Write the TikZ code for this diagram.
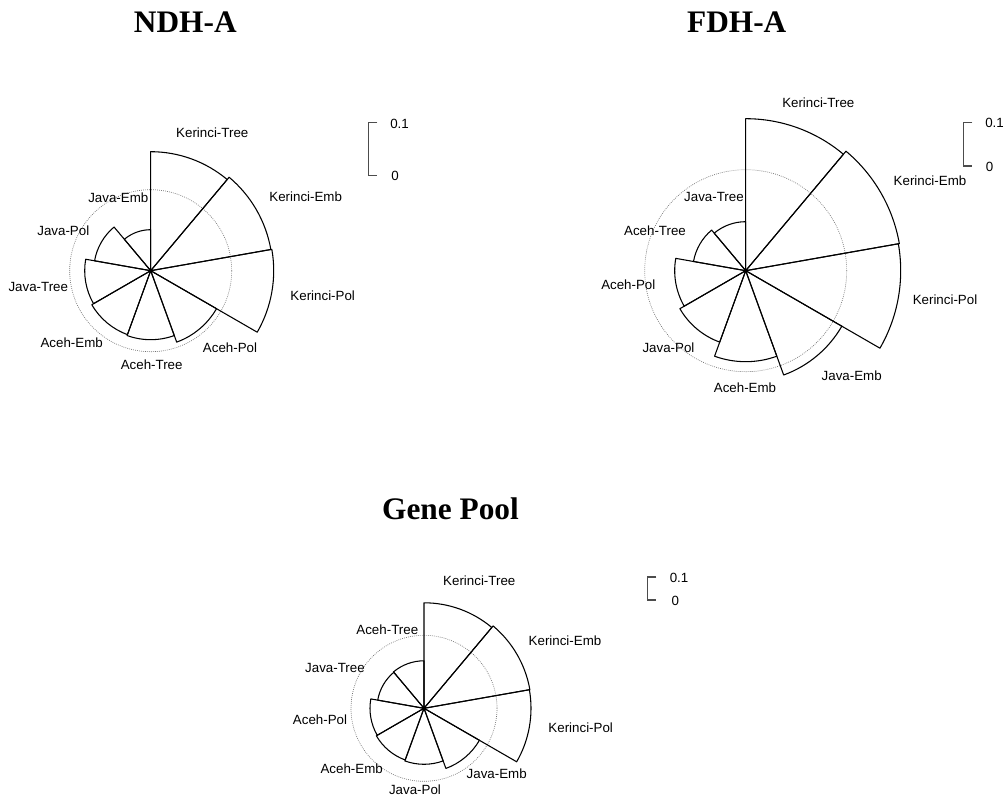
\documentclass[tikz,border=0pt]{standalone}
\usepackage{fontspec}
\setmainfont{Liberation Serif}
\setsansfont{Liberation Sans}
\begin{document}
\begin{tikzpicture}[x=0.75pt,y=0.75pt,
    sector/.style={draw=black,line width=0.8pt,line join=round},
    ring/.style={draw=black!55,line width=0.5pt,dash pattern=on 0.6pt off 0.9pt},
    lab/.style={font=\sffamily\fontsize{10}{12}\selectfont,inner sep=0pt},
    ttl/.style={font=\rmfamily\bfseries\fontsize{23.5}{28}\selectfont,inner sep=0pt},
    keybar/.style={draw=black!70,line width=0.8pt},
    keylab/.style={lab,anchor=west}]
\useasboundingbox (0,0) rectangle (1007,796);

% NDH-A
\coordinate (ndh) at (150.7,525.3);
\node[ttl] (ndh-title) at (185.3,774) {NDH-A};
\draw[ring] (ndh) circle[radius=81];
\foreach \a/\rad in {90/119,50/122,10/123,-30/76,-70/69,-110/68,-150/66,170/57,130/41}
  \draw[sector] (ndh) -- +(\a:\rad) arc[start angle=\a,delta angle=-40,radius=\rad] -- cycle;
\foreach \t/\x/\y [count=\i] in {Kerinci-Tree/212.3/663.7,Kerinci-Emb/305.7/599.3,
    Kerinci-Pol/322.7/500.3,Aceh-Pol/230/448.3,Aceh-Tree/151.7/431,Aceh-Emb/71.7/453.3,
    Java-Tree/38.3/509.3,Java-Pol/63.3/565.3,Java-Emb/118.3/598.7}
  \node[lab] (ndh-\i) at (\x,\y) {\t};
\draw[keybar] (377.3,673.3) -- (368.3,673.3) -- (368.3,620.7) -- (377.3,620.7);
\node[keylab] (ndh-top) at (390,672) {0.1};
\node[keylab] (ndh-low) at (391,620) {0};

% FDH-A
\coordinate (fdh) at (745.7,525.3);
\node[ttl] (fdh-title) at (736.7,774) {FDH-A};
\draw[ring] (fdh) circle[radius=101];
\foreach \a/\rad in {90/152,50/156,10/155,-30/111,-70/91,-110/76,-150/71,170/53,130/49}
  \draw[sector] (fdh) -- +(\a:\rad) arc[start angle=\a,delta angle=-40,radius=\rad] -- cycle;
\foreach \t/\x/\y [count=\i] in {Kerinci-Tree/818.3/693.3,Kerinci-Emb/930/615.3,
    Kerinci-Pol/945/496,Java-Emb/851.7/420,Aceh-Emb/745/408.7,Java-Pol/668.5/448.5,
    Aceh-Pol/628.3/511.5,Aceh-Tree/655/565.3,Java-Tree/714/598.7}
  \node[lab] (fdh-\i) at (\x,\y) {\t};
\draw[keybar] (972.3,673.7) -- (963.3,673.7) -- (963.3,630) -- (972.3,630);
\node[keylab] (fdh-top) at (985,672.7) {0.1};
\node[keylab] (fdh-low) at (985.6,629.3) {0};

% Gene Pool
\coordinate (gp) at (424,87.7);
\node[ttl] (gp-title) at (450.5,287.5) {Gene Pool};
\draw[ring] (gp) circle[radius=73];
\foreach \a/\rad in {90/105.5,50/107.5,10/107,-30/64,-70/56,-110/55,-150/54,170/47,130/47.5}
  \draw[sector] (gp) -- +(\a:\rad) arc[start angle=\a,delta angle=-40,radius=\rad] -- cycle;
\foreach \t/\x/\y [count=\i] in {Kerinci-Tree/479.3/215.3,Kerinci-Emb/565/155.3,
    Kerinci-Pol/580.7/68.7,Java-Emb/496.7/22,Java-Pol/415/6,Aceh-Emb/351.7/27.7,
    Aceh-Pol/320/76,Java-Tree/335/127.7,Aceh-Tree/387.3/166}
  \node[lab] (gp-\i) at (\x,\y) {\t};
\draw[keybar] (656.3,219) -- (647.3,219) -- (647.3,196) -- (656.3,196);
\node[keylab] (gp-top) at (669.5,218) {0.1};
\node[keylab] (gp-low) at (671.3,195.3) {0};
\end{tikzpicture}
\end{document}
